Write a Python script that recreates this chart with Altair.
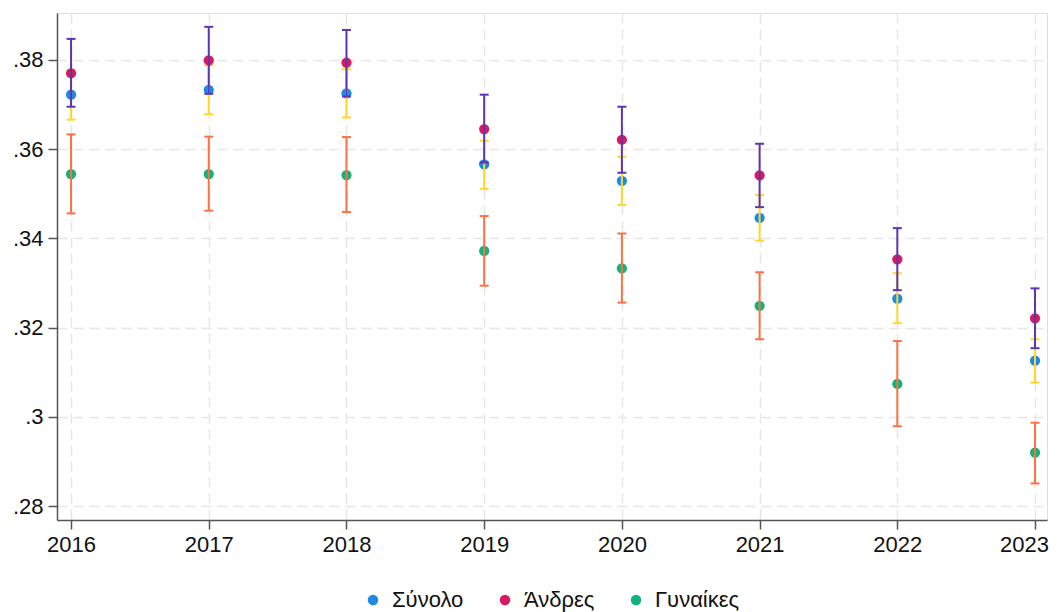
import altair as alt
import pandas as pd

years = [2016, 2017, 2018, 2019, 2020, 2021, 2022, 2023]
series_names = ["Σύνολο", "Άνδρες", "Γυναίκες"]

total = [0.3722, 0.3733, 0.3725, 0.3566, 0.3529, 0.3446, 0.3265, 0.3126]
total_lo = [0.3666, 0.3678, 0.3671, 0.3511, 0.3475, 0.3395, 0.3210, 0.3077]
total_hi = [0.3778, 0.3788, 0.3779, 0.3619, 0.3583, 0.3497, 0.3322, 0.3174]

men = [0.3770, 0.3799, 0.3794, 0.3645, 0.3621, 0.3541, 0.3353, 0.3221]
men_lo = [0.3695, 0.3724, 0.3718, 0.3570, 0.3547, 0.3470, 0.3284, 0.3154]
men_hi = [0.3847, 0.3874, 0.3867, 0.3722, 0.3695, 0.3612, 0.3423, 0.3288]

women = [0.3544, 0.3544, 0.3542, 0.3372, 0.3333, 0.3249, 0.3074, 0.2920]
women_lo = [0.3456, 0.3462, 0.3459, 0.3294, 0.3256, 0.3174, 0.2979, 0.2851]
women_hi = [0.3633, 0.3628, 0.3627, 0.3450, 0.3411, 0.3324, 0.3170, 0.2987]

y_ticks = [0.28, 0.30, 0.32, 0.34, 0.36, 0.38]

dot_colors = ["#1E88E5", "#D81B60", "#12B37A"]
ci_colors = ["#FFD726", "#5E35B1", "#FF7043"]

rows = []
for name, est, lo, hi in zip(series_names, [total, men, women],
                             [total_lo, men_lo, women_lo], [total_hi, men_hi, women_hi]):
    for yr, e, l, h in zip(years, est, lo, hi):
        rows.append({"year": yr, "series": name, "est": e, "lo": l, "hi": h})
df = pd.DataFrame(rows)

font = "Liberation Sans"

x_enc = alt.X("year:Q",
              scale=alt.Scale(domain=[2015.898, 2023.087], nice=False, zero=False),
              axis=alt.Axis(values=years, format="d", title=None, grid=True,
                            gridDash=[10, 6], gridColor="#e6e6e6", gridWidth=1.5,
                            domainColor="#555555", domainWidth=1.5,
                            tickColor="#555555", tickWidth=1.5, tickSize=9,
                            labelFontSize=22, labelFont=font, labelColor="#111111",
                            labelPadding=5,
                            labelOffset={"condition": {"test": "datum.value == 2023", "value": -11},
                                         "value": 0}))
y_scale = alt.Scale(domain=[0.2769, 0.3905], nice=False, zero=False)
y_axis = alt.Axis(values=y_ticks, title=None, grid=True,
                  gridDash=[10, 6], gridColor="#e6e6e6", gridWidth=1.5,
                  domainColor="#555555", domainWidth=1.5,
                  tickColor="#555555", tickWidth=1.5, tickSize=9,
                  labelFontSize=22, labelFont=font, labelColor="#111111",
                  labelPadding=5,
                  labelExpr="replace(format(datum.value, '.2~f'), /^0/, '')")

base = alt.Chart(df)
layers = []
for i, name in enumerate(series_names):
    sub = base.transform_filter(alt.datum.series == name)
    pts = sub.mark_circle(size=105, opacity=1).encode(
        x=x_enc,
        y=alt.Y("est:Q", scale=y_scale, axis=y_axis),
        color=alt.Color("series:N",
                        scale=alt.Scale(domain=series_names, range=dot_colors),
                        sort=series_names,
                        legend=alt.Legend(title=None, orient="none", direction="horizontal",
                                          legendX=305, legendY=576, padding=0,
                                          labelFontSize=22, labelFont=font,
                                          labelColor="#111111",
                                          symbolType="circle", symbolSize=110,
                                          symbolStrokeWidth=0, symbolOpacity=1,
                                          labelOffset=8, columnPadding=30)),
    )
    rule = sub.mark_rule(strokeWidth=2, color=ci_colors[i]).encode(
        x="year:Q", y="lo:Q", y2="hi:Q")
    cap_lo = sub.mark_tick(orient="horizontal", size=9, thickness=2,
                           color=ci_colors[i], opacity=1).encode(x="year:Q", y="lo:Q")
    cap_hi = sub.mark_tick(orient="horizontal", size=9, thickness=2,
                           color=ci_colors[i], opacity=1).encode(x="year:Q", y="hi:Q")
    layers += [pts, rule, cap_lo, cap_hi]

chart = alt.layer(*layers).properties(
    width=990, height=507,
    autosize=alt.AutoSizeParams(type="none"),
    padding={"left": 49, "top": 5, "right": 4, "bottom": 92},
).configure_view(stroke=None).configure(background="white")

chart.save("out.html", embed_options={"renderer": "svg", "actions": False})
